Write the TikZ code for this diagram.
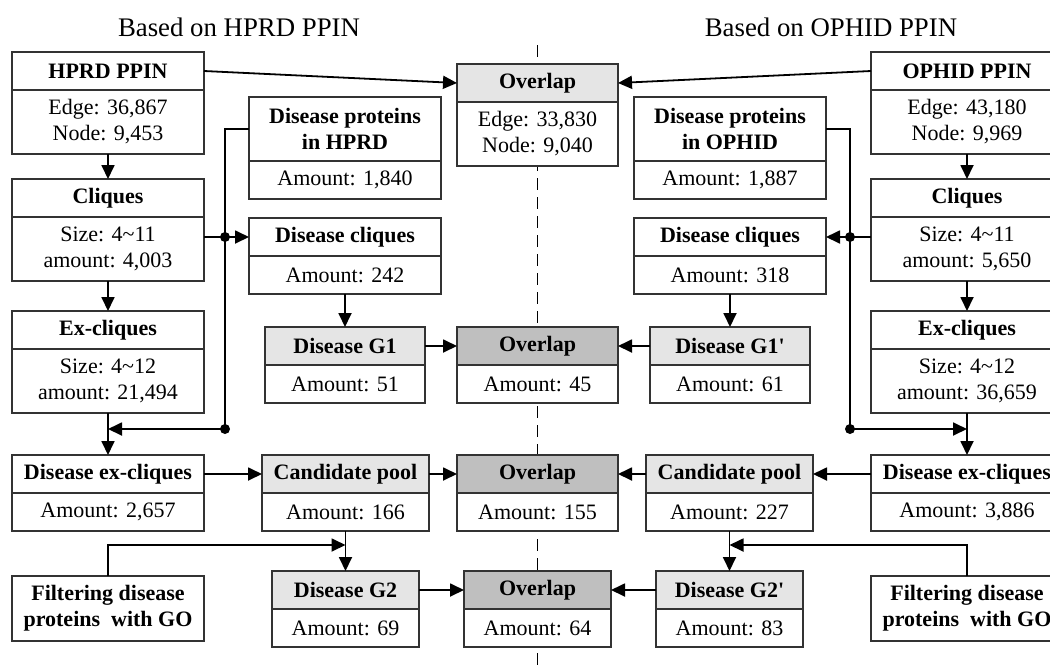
\documentclass[tikz,border=0pt]{standalone}
\usepackage{fontspec}
\setmainfont{Liberation Serif}
\usepackage{tikz}
\usetikzlibrary{arrows.meta,positioning}

\begin{document}
\begin{tikzpicture}[
    x=0.5pt, y=-0.5pt,
    font=\fontsize{11}{13}\selectfont,
    hd/.style={draw=black!80, line width=0.6pt, fill=white, outer sep=0pt, inner sep=0pt,
               font=\fontsize{11}{13}\selectfont\bfseries, align=center,
               minimum height=19pt, anchor=north},
    bd/.style={draw=black!80, line width=0.6pt, fill=white, outer sep=0pt, inner sep=0pt,
               align=center, minimum height=19pt, anchor=north},
    tall/.style={minimum height=32pt},
    lite/.style={fill=black!10},
    dark/.style={fill=black!25},
    colbox/.style={minimum width=96pt},
    gonebox/.style={minimum width=80pt},
    ovbox/.style={minimum width=80.5pt},
    poolbox/.style={minimum width=83.5pt},
    gtwobox/.style={minimum width=73.5pt},
    side/.style={font=\fontsize{13.4}{16}\selectfont},
    wire/.style={line width=0.9pt},
    arr/.style={-{Triangle[length=7pt,width=6.5pt]}, line width=0.9pt},
    junc/.style={circle, fill, inner sep=0pt, minimum size=5pt}
]
\fill[white] (0,0) rectangle (1050,670);
\useasboundingbox (0,0) rectangle (1050,670);

% ---------- divider ----------
\draw[line width=0.6pt, dash pattern=on 6pt off 3.5pt] (537.5,45) -- (537.5,670);

\node[side] (titleL) at (239,27) {Based on HPRD PPIN};
\node[side] (titleR) at (831,27) {Based on OPHID PPIN};

% ---------- HPRD side ----------
\node[hd, colbox] (hprd) at (108,52) {HPRD PPIN};
\node[bd, colbox, tall, below=0pt of hprd] (hprdB) {Edge: 36,867\\Node: 9,453};
\node[hd, colbox] (cliq) at (108,179) {Cliques};
\node[bd, colbox, tall, below=0pt of cliq] (cliqB) {Size: 4\textasciitilde 11\\amount: 4,003};
\node[hd, colbox] (excl) at (108,311) {Ex-cliques};
\node[bd, colbox, tall, below=0pt of excl] (exclB) {Size: 4\textasciitilde 12\\amount: 21,494};
\node[hd, colbox] (dexcl) at (108,455) {Disease ex-cliques};
\node[bd, colbox, below=0pt of dexcl] (dexclB) {Amount: 2,657};
\node[hd, colbox, minimum height=32.5pt] (filt) at (108,576) {Filtering disease\\proteins\ \ with GO};

\node[hd, colbox, tall] (dph) at (345,97) {Disease proteins\\in HPRD};
\node[bd, colbox, below=0pt of dph] (dphB) {Amount: 1,840};
\node[hd, colbox] (dcl) at (345,218) {Disease cliques};
\node[bd, colbox, below=0pt of dcl] (dclB) {Amount: 242};
\node[hd, gonebox, lite] (gone) at (345,327) {Disease G1};
\node[bd, gonebox, below=0pt of gone] (goneB) {Amount: 51};
\node[hd, poolbox, lite] (pool) at (345.5,455) {Candidate pool};
\node[bd, poolbox, below=0pt of pool] (poolB) {Amount: 166};
\node[hd, gtwobox, lite] (gtwo) at (345.5,571) {Disease G2};
\node[bd, gtwobox, below=0pt of gtwo] (gtwoB) {Amount: 69};

% ---------- overlaps ----------
\node[hd, ovbox, lite] (ovA) at (537.5,64) {Overlap};
\node[bd, ovbox, tall, below=0pt of ovA] (ovAB) {Edge: 33,830\\Node: 9,040};
\node[hd, ovbox, dark] (ovB) at (537.5,327) {Overlap};
\node[bd, ovbox, below=0pt of ovB] (ovBB) {Amount: 45};
\node[hd, ovbox, dark] (ovC) at (537.5,455) {Overlap};
\node[bd, ovbox, below=0pt of ovC] (ovCB) {Amount: 155};
\node[hd, gtwobox, dark] (ovD) at (537.5,571) {Overlap};
\node[bd, gtwobox, below=0pt of ovD] (ovDB) {Amount: 64};

% ---------- OPHID side ----------
\node[hd, colbox] (ophid) at (967,52) {OPHID PPIN};
\node[bd, colbox, tall, below=0pt of ophid] (ophidB) {Edge: 43,180\\Node: 9,969};
\node[hd, colbox] (cliqR) at (967,179) {Cliques};
\node[bd, colbox, tall, below=0pt of cliqR] (cliqRB) {Size: 4\textasciitilde 11\\amount: 5,650};
\node[hd, colbox] (exclR) at (967,311) {Ex-cliques};
\node[bd, colbox, tall, below=0pt of exclR] (exclRB) {Size: 4\textasciitilde 12\\amount: 36,659};
\node[hd, colbox] (dexclR) at (967,455) {Disease ex-cliques};
\node[bd, colbox, below=0pt of dexclR] (dexclRB) {Amount: 3,886};
\node[hd, colbox, minimum height=32.5pt] (filtR) at (967,576) {Filtering disease\\proteins\ \ with GO};

\node[hd, colbox, tall] (dphR) at (730,97) {Disease proteins\\in OPHID};
\node[bd, colbox, below=0pt of dphR] (dphRB) {Amount: 1,887};
\node[hd, colbox] (dclR) at (730,218) {Disease cliques};
\node[bd, colbox, below=0pt of dclR] (dclRB) {Amount: 318};
\node[hd, gonebox, lite] (goneR) at (730,327) {Disease G1\textquotesingle};
\node[bd, gonebox, below=0pt of goneR] (goneRB) {Amount: 61};
\node[hd, poolbox, lite] (poolR) at (729.5,455) {Candidate pool};
\node[bd, poolbox, below=0pt of poolR] (poolRB) {Amount: 227};
\node[hd, gtwobox, lite] (gtwoR) at (729.5,571) {Disease G2\textquotesingle};
\node[bd, gtwobox, below=0pt of gtwoR] (gtwoRB) {Amount: 83};

% ---------- connectors, HPRD side ----------
\coordinate (busL) at (225,429);
\coordinate (goL) at (345.5,545);
\draw[arr] (hprd.east) -- (ovA.west);
\draw[arr] (hprdB.south) -- (cliq.north);
\draw[arr] (cliqB.south) -- (excl.north);
\draw[arr] (exclB.south) -- (dexcl.north);
\draw[wire] (dph.west) -| (busL);
\draw[arr] (busL) -- (exclB.south |- busL);
\draw[arr] (cliqB.east |- dcl.west) -- (dcl.west);
\node[junc] (dotLa) at (busL |- dcl.west) {};
\node[junc] (dotLb) at (busL) {};
\draw[arr] (dclB.south) -- (gone.north);
\draw[arr] (gone.east) -- (ovB.west);
\draw[arr] (dexcl.east) -- (pool.west);
\draw[arr] (pool.east) -- (ovC.west);
\draw[arr] (poolB.south) -- (gtwo.north);
\draw[arr] (filt.north) |- (goL);
\draw[arr] (gtwo.east) -- (ovD.west);

% ---------- connectors, OPHID side ----------
\coordinate (busR) at (850,429);
\coordinate (goR) at (729.5,545);
\draw[arr] (ophid.west) -- (ovA.east);
\draw[arr] (ophidB.south) -- (cliqR.north);
\draw[arr] (cliqRB.south) -- (exclR.north);
\draw[arr] (exclRB.south) -- (dexclR.north);
\draw[wire] (dphR.east) -| (busR);
\draw[arr] (busR) -- (exclRB.south |- busR);
\draw[arr] (cliqRB.west |- dclR.east) -- (dclR.east);
\node[junc] (dotRa) at (busR |- dclR.east) {};
\node[junc] (dotRb) at (busR) {};
\draw[arr] (dclRB.south) -- (goneR.north);
\draw[arr] (goneR.west) -- (ovB.east);
\draw[arr] (dexclR.west) -- (poolR.east);
\draw[arr] (poolR.west) -- (ovC.east);
\draw[arr] (poolRB.south) -- (gtwoR.north);
\draw[arr] (filtR.north) |- (goR);
\draw[arr] (gtwoR.west) -- (ovD.east);

\end{tikzpicture}
\end{document}
